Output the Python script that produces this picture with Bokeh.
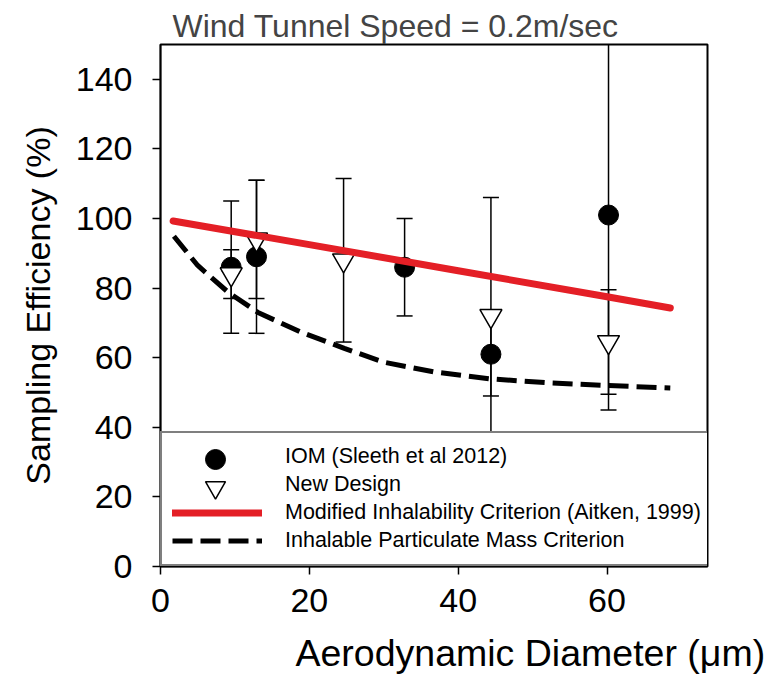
from bokeh.plotting import figure
from bokeh.models import Range1d, Whisker, TeeHead, ColumnDataSource, Legend, LegendItem, Title, FixedTicker
from bokeh.embed import file_html
from bokeh.resources import INLINE

# IOM (Sleeth et al 2012)
iom_x = [9.5, 12.9, 32.8, 44.4, 60.2]
iom_y = [86, 89, 86, 61, 101]
iom_err = [19, 22, 14, 12, 56]

# New Design
nd_x = [9.5, 12.9, 24.6, 44.4, 60.2]
nd_y = [84, 94, 88, 72, 64.5]
nd_err = [7, 17, 23.5, 34, 15]

# Modified Inhalability Criterion (Aitken, 1999)
mic_x = [1.7, 20, 40, 60, 68.5]
mic_y = [99.3, 92.5, 85.0, 77.5, 74.3]

# Inhalable Particulate Mass Criterion
ipm_x = [1.8, 5, 9.1, 13.1, 18.9, 24.7, 30, 36.8, 44.4, 52, 60.2, 68.5]
ipm_y = [94.9, 86.5, 78.8, 73.0, 67.3, 62.7, 58.7, 55.9, 53.9, 52.8, 52.0, 51.3]

x_ticks = [0, 20, 40, 60]
y_ticks = [0, 20, 40, 60, 80, 100, 120, 140]

labels = ["IOM (Sleeth et al 2012)", "New Design",
          "Modified Inhalability Criterion (Aitken, 1999)",
          "Inhalable Particulate Mass Criterion"]

FONT = "Liberation Sans"

p = figure(width=778, height=694, output_backend="svg", toolbar_location=None,
           x_range=Range1d(0, 73.5), y_range=Range1d(0, 150),
           min_border_left=160, min_border_right=71, min_border_top=44, min_border_bottom=128)

p.title.text = "Wind Tunnel Speed = 0.2m/sec"
p.title.text_font = FONT
p.title.text_font_size = "32px"
p.title.text_font_style = "normal"
p.title.align = "left"
p.title.offset = 12
p.title.standoff = 2

p.grid.visible = False
p.background_fill_color = "white"
p.border_fill_color = "white"
p.outline_line_color = "black"
p.outline_line_width = 2
p.outline_line_alpha = 1

for ax in (p.xaxis[0], p.yaxis[0]):
    ax.major_tick_out = 8
    ax.major_tick_in = 0
    ax.minor_tick_line_color = None
    ax.axis_line_color = "black"
    ax.axis_line_width = 1.5
    ax.major_tick_line_width = 1.5
    ax.major_tick_line_color = "black"
    ax.major_label_text_font = FONT
    ax.major_label_text_font_size = "34px"
    ax.major_label_text_color = "black"

p.xaxis.ticker = FixedTicker(ticks=x_ticks)
p.yaxis.ticker = FixedTicker(ticks=y_ticks)
p.xaxis.major_label_standoff = 14
p.yaxis.major_label_standoff = 20

p.yaxis.axis_label = "Sampling Efficiency (%)"
p.yaxis.axis_label_text_font = FONT
p.yaxis.axis_label_text_font_size = "34px"
p.yaxis.axis_label_text_font_style = "normal"
p.yaxis.axis_label_text_color = "black"
p.yaxis.axis_label_standoff = 16

xlab = Title(text="Aerodynamic Diameter (\u03bcm)", align="left", offset=135,
             text_font=FONT, text_font_size="37.5px", text_font_style="normal",
             text_color="black", standoff=30)
p.add_layout(xlab, "below")

# error bars
iom_src = ColumnDataSource(dict(x=iom_x, y=iom_y,
                                lo=[a - b for a, b in zip(iom_y, iom_err)],
                                hi=[a + b for a, b in zip(iom_y, iom_err)]))
nd_src = ColumnDataSource(dict(x=nd_x, y=nd_y,
                               lo=[a - b for a, b in zip(nd_y, nd_err)],
                               hi=[a + b for a, b in zip(nd_y, nd_err)]))
for src in (iom_src, nd_src):
    w = Whisker(source=src, base="x", lower="lo", upper="hi", dimension="height",
                line_color="black", line_width=1.5,
                upper_head=TeeHead(size=16, line_color="black", line_width=1.5),
                lower_head=TeeHead(size=16, line_color="black", line_width=1.5))
    p.add_layout(w)

r_iom = p.scatter("x", "y", source=iom_src, marker="circle", size=20,
                  fill_color="black", line_color="black")
r_nd = p.scatter("x", "y", source=nd_src, marker="inverted_triangle", size=22,
                 fill_color="white", line_color="black", line_width=1.5)
r_ipm = p.line(ipm_x, ipm_y, line_color="black", line_width=5, line_dash="20 8")
r_mic = p.line(mic_x, mic_y, line_color="#e41f26", line_width=7, line_cap="round")

# main legend box (labels + line samples)
PAD, GW, GH, SP, STAND = 10, 90, 27, 1, 23
FRAME_W = 547
legend = Legend(items=[
    LegendItem(label=labels[0], renderers=[]),
    LegendItem(label=labels[1], renderers=[]),
    LegendItem(label=labels[2], renderers=[r_mic]),
    LegendItem(label=labels[3], renderers=[r_ipm]),
], location=(0, 0))
legend.label_text_font = FONT
legend.label_text_font_size = "21.5px"
legend.label_text_color = "black"
legend.glyph_width = GW
legend.glyph_height = GH
legend.label_height = GH
legend.label_standoff = STAND
legend.label_width = FRAME_W - 2 * PAD - GW - STAND
legend.padding = PAD
legend.spacing = SP
legend.margin = 0
legend.border_line_color = "black"
legend.border_line_width = 2
legend.background_fill_color = "white"
legend.background_fill_alpha = 1
p.add_layout(legend, "center")

# larger marker samples overlaid on the first two legend rows
BIG = 50
box_h = 4 * GH + 3 * SP + 2 * PAD
cx = PAD + GW / 2
for row, rend in ((0, r_iom), (1, r_nd)):
    cy_from_bottom = box_h - (PAD + row * (GH + SP) + GH / 2)
    mk = Legend(items=[LegendItem(label=" ", renderers=[rend])],
                location=(cx - BIG / 2, cy_from_bottom - BIG / 2))
    mk.glyph_width = BIG
    mk.glyph_height = BIG
    mk.label_height = BIG
    mk.label_width = 0
    mk.label_standoff = 0
    mk.padding = 0
    mk.margin = 0
    mk.label_text_font_size = "2px"
    mk.border_line_color = None
    mk.background_fill_alpha = 0
    p.add_layout(mk, "center")

open("out.html", "w").write(file_html(p, INLINE))
